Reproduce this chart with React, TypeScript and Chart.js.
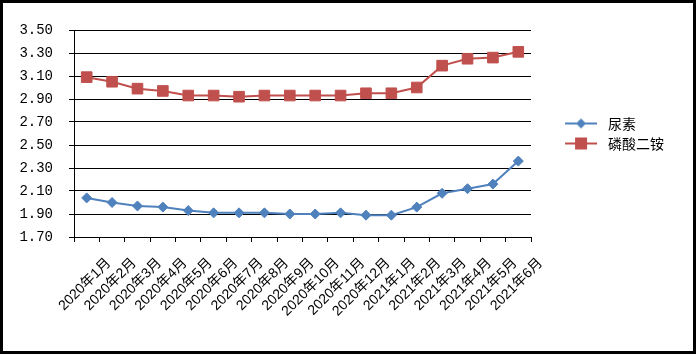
import React, { useEffect, useRef } from 'react';
import { Chart, registerables } from 'chart.js';

Chart.register(...registerables);

const categories = [
  '2020年1月', '2020年2月', '2020年3月', '2020年4月', '2020年5月', '2020年6月',
  '2020年7月', '2020年8月', '2020年9月', '2020年10月', '2020年11月', '2020年12月',
  '2021年1月', '2021年2月', '2021年3月', '2021年4月', '2021年5月', '2021年6月',
];
const ureaLabel = '尿素';
const dapLabel = '磷酸二铵';
const ureaValues = [2.04, 2.0, 1.97, 1.96, 1.93, 1.91, 1.91, 1.91, 1.9, 1.9, 1.91, 1.89, 1.89, 1.96, 2.08, 2.12, 2.16, 2.36];
const dapValues = [3.09, 3.05, 2.99, 2.97, 2.93, 2.93, 2.92, 2.93, 2.93, 2.93, 2.93, 2.95, 2.95, 3.0, 3.19, 3.25, 3.26, 3.31];
const yMin = 1.7;
const yMax = 3.5;
const yStep = 0.2;

const UREA_COLOR = '#4F81BD';
const DAP_COLOR = '#C0504D';

function makeLegendIcon(color: string, kind: 'diamond' | 'square'): HTMLCanvasElement {
  const c = document.createElement('canvas');
  c.width = 64;
  c.height = 14;
  const ctx = c.getContext('2d')!;
  ctx.strokeStyle = color;
  ctx.lineWidth = 2;
  ctx.beginPath();
  ctx.moveTo(28, 7);
  ctx.lineTo(60, 7);
  ctx.stroke();
  ctx.fillStyle = color;
  if (kind === 'diamond') {
    ctx.beginPath();
    ctx.moveTo(44, 2);
    ctx.lineTo(49, 7);
    ctx.lineTo(44, 12);
    ctx.lineTo(39, 7);
    ctx.closePath();
    ctx.fill();
  } else {
    ctx.fillRect(38, 1, 12, 12);
  }
  return c;
}

export default function App() {
  const ref = useRef<HTMLCanvasElement | null>(null);

  useEffect(() => {
    document.body.style.margin = '0';
    const canvas = ref.current!;
    const icons = [makeLegendIcon(UREA_COLOR, 'diamond'), makeLegendIcon(DAP_COLOR, 'square')];
    const chart = new Chart(canvas, {
      type: 'line',
      data: {
        labels: categories,
        datasets: [
          {
            label: ureaLabel,
            data: ureaValues,
            borderColor: UREA_COLOR,
            backgroundColor: UREA_COLOR,
            borderWidth: 2,
            pointStyle: 'rectRot',
            pointRadius: 5,
            pointBorderWidth: 1,
            pointBackgroundColor: UREA_COLOR,
            pointBorderColor: UREA_COLOR,
            tension: 0,
          },
          {
            label: dapLabel,
            data: dapValues,
            borderColor: DAP_COLOR,
            backgroundColor: DAP_COLOR,
            borderWidth: 2,
            pointStyle: 'rect',
            pointRadius: 7.5,
            pointBorderWidth: 1,
            pointBackgroundColor: DAP_COLOR,
            pointBorderColor: DAP_COLOR,
            tension: 0,
          },
        ],
      },
      options: {
        responsive: false,
        animation: false,
        devicePixelRatio: 1,
        layout: { padding: { top: 27, right: 19, bottom: 0, left: 0 } },
        plugins: {
          tooltip: { enabled: false },
          legend: {
            position: 'right',
            align: 'center',
            fullSize: false,
            labels: {
              usePointStyle: true,
              pointStyleWidth: 64,
              padding: 6,
              color: '#000',
              font: { family: "'Noto Sans CJK SC'", size: 14 },
              generateLabels: (ch: any) =>
                ch.data.datasets.map((ds: any, i: number) => ({
                  text: ds.label,
                  pointStyle: icons[i],
                  fillStyle: ds.borderColor,
                  strokeStyle: ds.borderColor,
                  lineWidth: 0,
                  hidden: false,
                  datasetIndex: i,
                  fontColor: '#000',
                })),
            },
          },
        },
        scales: {
          x: {
            type: 'category',
            offset: true,
            afterFit: (s: any) => {
              s.height = 114;
            },
            grid: {
              offset: true,
              drawOnChartArea: false,
              drawTicks: true,
              tickLength: 5,
              color: '#000',
            },
            border: { display: true, color: '#000', width: 1 },
            ticks: {
              autoSkip: false,
              minRotation: 45,
              maxRotation: 45,
              labelOffset: 22,
              padding: 13,
              color: '#000',
              font: { family: "'Liberation Sans', 'Noto Sans CJK SC'", size: 14 },
            },
          },
          y: {
            min: yMin,
            max: yMax,
            afterFit: (s: any) => {
              s.width = 71;
            },
            grid: { color: '#000', lineWidth: 1, drawTicks: true, tickLength: 5 },
            border: { display: true, color: '#000', width: 1 },
            ticks: {
              stepSize: yStep,
              padding: 16,
              color: '#000',
              font: { family: "'Liberation Mono'", size: 14 },
              callback: (v: any) => Number(v).toFixed(2),
            },
          },
        },
      },
    });
    return () => chart.destroy();
  }, []);

  return (
    <div
      style={{
        width: 696,
        height: 354,
        border: '3px solid #000',
        boxSizing: 'border-box',
        background: '#fff',
        position: 'relative',
      }}
    >
      <canvas ref={ref} width={690} height={348} style={{ display: 'block' }} />
    </div>
  );
}
